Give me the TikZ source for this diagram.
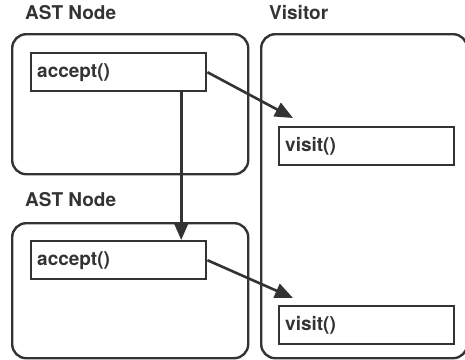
\documentclass[tikz,border=0pt]{standalone}
\usepackage{fontspec}
\setmainfont{TeX Gyre Heros}
\usetikzlibrary{arrows.meta}
\definecolor{ink}{HTML}{333333}
\tikzset{
  container/.style={draw=ink, line width=2.4pt, rounded corners=14pt, inner sep=0pt, anchor=north west},
  method/.style={draw=ink, line width=2.4pt, inner sep=0pt, anchor=north west, minimum width=175pt, minimum height=38pt, text=ink, font=\fontsize{19}{22}\selectfont\bfseries, align=left, text width=163pt},
  title/.style={anchor=north west, inner sep=0pt, text=ink, font=\fontsize{19}{22}\selectfont\bfseries},
  call/.style={draw=ink, line width=2.6pt, -{Triangle[length=18pt,width=15pt]}}
}
\begin{document}
\begin{tikzpicture}[x=1pt,y=-1pt]
\useasboundingbox (0,0) rectangle (465,359);
% containers
\node[container, minimum width=236pt, minimum height=140pt] (ast1) at (11,33) {};
\node[container, minimum width=236pt, minimum height=135pt] (ast2) at (11,222) {};
\node[container, minimum width=206pt, minimum height=324pt] (vis) at (260,33) {};
% titles
\node[title] (t1) at (25,5) {AST Node};
\node[title] (t2) at (25,192) {AST Node};
\node[title] (t3) at (269,5) {Visitor};
% methods
\node[method] (acc1) at (30,52) {accept()};
\node[method] (acc2) at (30,240) {accept()};
\node[method] (vis1) at (278,126) {visit()};
\node[method] (vis2) at (278,305) {visit()};
% connectors
\coordinate (e1) at (293,118);
\coordinate (e2) at (293,298);
\draw[call] (acc1.east) -- (e1);
\draw[call] (acc2.east) -- (e2);
\draw[call] ([xshift=62.5pt]acc1.south) -- ([xshift=62.5pt]acc2.north);
\end{tikzpicture}
\end{document}
